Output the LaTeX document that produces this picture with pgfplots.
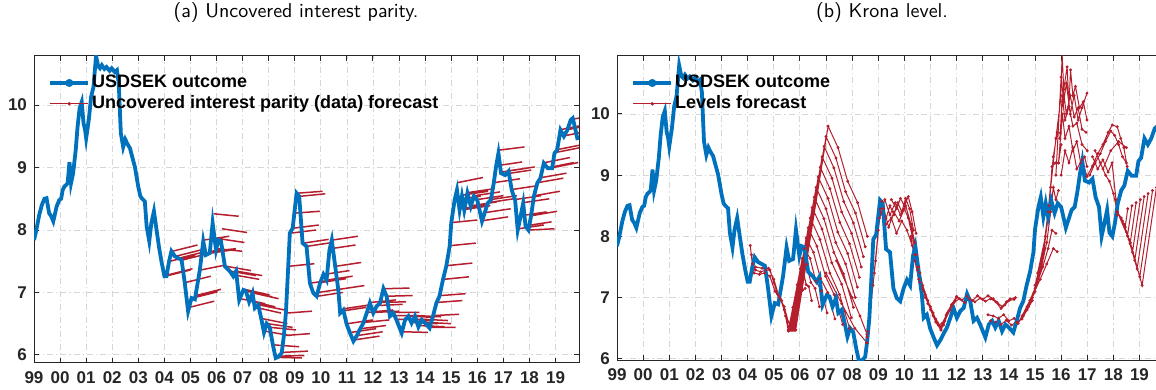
\documentclass[border=0pt]{standalone}
\usepackage{fontspec}
\usepackage{pgfplots}
\pgfplotsset{compat=1.18}
\usepackage{pgfplotstable}
\newfontfamily\hel{Liberation Sans}
\definecolor{mblue}{RGB}{0,114,189}
\definecolor{mred}{RGB}{180,30,45}
\definecolor{axc}{RGB}{38,38,38}

\pgfplotstableread{
x y
1999.00 7.84
1999.08 7.98
1999.20 8.24
1999.30 8.40
1999.40 8.50
1999.48 8.51
1999.58 8.27
1999.66 8.22
1999.74 8.14
1999.87 8.38
1999.97 8.48
2000.04 8.50
2000.10 8.64
2000.17 8.70
2000.23 8.72
2000.29 8.75
2000.36 9.09
2000.42 8.75
2000.50 8.91
2000.60 9.28
2000.67 9.65
2000.75 9.95
2000.83 10.05
2000.90 9.71
2000.96 9.60
2001.00 9.47
2001.10 9.76
2001.19 10.13
2001.28 10.29
2001.38 10.79
2001.46 10.62
2001.53 10.59
2001.60 10.64
2001.70 10.58
2001.78 10.61
2001.90 10.55
2001.98 10.59
2002.10 10.53
2002.18 10.56
2002.25 10.35
2002.33 9.55
2002.42 9.33
2002.50 9.45
2002.58 9.38
2002.68 9.31
2002.78 9.15
2002.87 9.01
2003.00 8.69
2003.08 8.54
2003.15 8.50
2003.25 8.46
2003.32 8.06
2003.42 7.82
2003.50 8.11
2003.60 8.30
2003.70 8.00
2003.80 7.71
2003.90 7.47
2004.00 7.26
2004.08 7.26
2004.18 7.50
2004.27 7.66
2004.40 7.58
2004.53 7.55
2004.66 7.52
2004.78 7.16
2004.91 6.70
2005.04 6.91
2005.17 6.89
2005.36 7.36
2005.49 7.82
2005.59 7.60
2005.74 7.63
2005.85 8.11
2005.98 7.68
2006.07 7.84
2006.17 7.82
2006.32 7.42
2006.51 7.34
2006.64 7.26
2006.75 7.34
2006.87 6.88
2007.03 7.04
2007.13 7.02
2007.25 6.85
2007.38 6.99
2007.47 6.75
2007.60 6.80
2007.72 6.57
2007.82 6.36
2007.92 6.50
2008.04 6.44
2008.17 6.14
2008.27 5.95
2008.37 5.97
2008.50 6.03
2008.58 6.30
2008.66 6.67
2008.75 7.42
2008.81 7.95
2008.92 8.03
2009.07 8.59
2009.17 8.54
2009.30 7.79
2009.45 7.74
2009.58 7.15
2009.71 6.99
2009.84 6.94
2009.97 7.15
2010.10 7.29
2010.22 7.20
2010.33 7.68
2010.42 7.84
2010.55 7.42
2010.67 7.04
2010.74 6.67
2010.86 6.72
2010.99 6.49
2011.12 6.35
2011.25 6.22
2011.37 6.30
2011.50 6.41
2011.63 6.51
2011.76 6.67
2011.88 6.83
2012.01 6.67
2012.14 6.78
2012.27 6.83
2012.40 7.06
2012.52 6.94
2012.65 6.62
2012.78 6.67
2012.90 6.56
2013.10 6.35
2013.23 6.56
2013.36 6.62
2013.48 6.51
2013.61 6.62
2013.74 6.45
2013.87 6.56
2014.00 6.51
2014.17 6.43
2014.30 6.62
2014.43 6.83
2014.55 6.94
2014.68 7.20
2014.81 7.42
2014.94 7.74
2015.00 8.11
2015.13 8.48
2015.22 8.64
2015.32 8.32
2015.41 8.54
2015.50 8.32
2015.62 8.59
2015.75 8.38
2015.87 8.54
2016.00 8.48
2016.18 8.14
2016.28 8.27
2016.40 8.43
2016.52 8.48
2016.63 8.75
2016.72 9.02
2016.81 9.23
2016.91 8.91
2017.07 8.88
2017.20 8.94
2017.32 8.64
2017.45 8.48
2017.55 8.00
2017.66 8.22
2017.76 8.43
2017.85 8.06
2017.96 8.00
2018.06 8.22
2018.17 8.54
2018.30 8.75
2018.42 8.83
2018.55 9.07
2018.70 8.99
2018.87 8.99
2018.96 9.23
2019.06 9.28
2019.19 9.60
2019.32 9.50
2019.45 9.60
2019.58 9.76
2019.66 9.79
2019.75 9.63
2019.85 9.44
}\usdsek

\pgfplotsset{
  myaxis/.style={
    scale only axis,
    xmin=1999, xmax=2019.9,
    xtick={1999,2000,2001,2002,2003,2004,2005,2006,2007,2008,2009,2010,2011,2012,2013,2014,2015,2016,2017,2018,2019},
    xticklabels={99,00,01,02,03,04,05,06,07,08,09,10,11,12,13,14,15,16,17,18,19},
    ytick={6,7,8,9,10},
    yticklabels={6,7,8,9,10},
    tick align=inside,
    major tick length=2.5pt,
    grid=major,
    major grid style={line width=0.4pt, black!16, dash pattern=on 3pt off 1.5pt on 0.6pt off 1.5pt},
    axis line style={axc, line width=0.5pt},
    tick style={axc, line width=0.5pt},
    ticklabel style={font=\hel\bfseries\fontsize{8.5}{10}\selectfont, text=axc},
    xticklabel style={yshift=-1pt},
    legend cell align=left,
    legend style={draw=none, fill=none, inner sep=0pt,
      font=\hel\bfseries\fontsize{9}{10}\selectfont,
      at={(0,1)}, anchor=north west, xshift=7pt, yshift=-8.5pt,
      nodes={inner xsep=1pt, inner ysep=1pt}, row sep=0.5pt},
    legend image code/.code={\draw[mark repeat=2,mark phase=2,##1] plot coordinates {(0pt,0pt) (9.5pt,0pt) (19pt,0pt)};},
  },
  bluestyle/.style={mblue, line width=1.9pt},
}

\begin{document}
\begin{tikzpicture}
\useasboundingbox (0,0) rectangle (578pt,195pt);
\node[font=\sffamily\fontsize{10}{12}\selectfont, anchor=base] at (148pt,186pt) {(a) Uncovered interest parity.};
\node[font=\sffamily\fontsize{10}{12}\selectfont, anchor=base] at (441pt,186pt) {(b) Krona level.};

% ---------------- left panel
\begin{axis}[myaxis, at={(17pt,13.5pt)}, anchor=south west,
  width=272.5pt, height=153.6pt, ymin=5.87, ymax=10.79]
\addplot[mred, line width=0.75pt, unbounded coords=jump, forget plot] coordinates {
(2004.04,7.26)(2005.00,7.36)(nan,nan)
(2004.12,7.28)(2005.08,7.38)(nan,nan)
(2004.22,7.50)(2005.18,7.60)(nan,nan)
(2004.31,7.66)(2005.27,7.76)(nan,nan)
(2004.44,7.58)(2005.40,7.68)(nan,nan)
(2004.57,7.55)(2005.53,7.65)(nan,nan)
(2004.70,7.52)(2005.66,7.62)(nan,nan)
(2004.82,7.16)(2005.78,7.26)(nan,nan)
(2004.95,6.76)(2005.91,6.86)(nan,nan)
(2005.08,6.91)(2006.04,7.01)(nan,nan)
(2005.21,6.95)(2006.17,7.05)(nan,nan)
(2005.40,7.36)(2006.36,7.44)(nan,nan)
(2005.53,7.84)(2006.49,7.90)(nan,nan)
(2005.63,7.62)(2006.59,7.68)(nan,nan)
(2005.78,7.66)(2006.74,7.70)(nan,nan)
(2005.89,8.26)(2006.85,8.22)(nan,nan)
(2006.02,7.70)(2006.98,7.66)(nan,nan)
(2006.11,7.86)(2007.07,7.80)(nan,nan)
(2006.21,8.02)(2007.17,7.96)(nan,nan)
(2006.36,7.42)(2007.32,7.35)(nan,nan)
(2006.55,7.34)(2007.51,7.27)(nan,nan)
(2006.68,7.28)(2007.64,7.21)(nan,nan)
(2006.79,7.34)(2007.75,7.27)(nan,nan)
(2006.91,6.90)(2007.87,6.82)(nan,nan)
(2007.07,7.05)(2008.03,6.96)(nan,nan)
(2007.17,7.02)(2008.13,6.93)(nan,nan)
(2007.29,6.86)(2008.25,6.77)(nan,nan)
(2007.42,6.99)(2008.38,6.90)(nan,nan)
(2007.51,6.76)(2008.47,6.67)(nan,nan)
(2007.64,6.80)(2008.60,6.72)(nan,nan)
(2007.76,6.58)(2008.72,6.50)(nan,nan)
(2007.86,6.38)(2008.82,6.31)(nan,nan)
(2007.96,6.50)(2008.92,6.44)(nan,nan)
(2008.08,6.44)(2009.04,6.40)(nan,nan)
(2008.21,6.16)(2009.17,6.13)(nan,nan)
(2008.31,5.96)(2009.27,5.95)(nan,nan)
(2008.41,5.98)(2009.37,5.99)(nan,nan)
(2008.54,6.04)(2009.50,6.06)(nan,nan)
(2008.62,6.31)(2009.58,6.34)(nan,nan)
(2008.70,6.67)(2009.66,6.70)(nan,nan)
(2008.79,7.42)(2009.75,7.46)(nan,nan)
(2008.85,7.95)(2009.81,8.00)(nan,nan)
(2008.96,8.03)(2009.92,8.08)(nan,nan)
(2009.00,8.27)(2009.96,8.30)(nan,nan)
(2009.11,8.59)(2010.07,8.62)(nan,nan)
(2009.21,8.54)(2010.17,8.58)(nan,nan)
(2009.34,7.79)(2010.30,7.85)(nan,nan)
(2009.49,7.74)(2010.45,7.80)(nan,nan)
(2009.62,7.15)(2010.58,7.21)(nan,nan)
(2009.75,6.99)(2010.71,7.05)(nan,nan)
(2009.88,6.94)(2010.84,7.00)(nan,nan)
(2010.01,7.16)(2010.97,7.22)(nan,nan)
(2010.14,7.29)(2011.10,7.35)(nan,nan)
(2010.26,7.20)(2011.22,7.26)(nan,nan)
(2010.37,7.70)(2011.33,7.76)(nan,nan)
(2010.46,7.84)(2011.42,7.90)(nan,nan)
(2010.59,7.42)(2011.55,7.48)(nan,nan)
(2010.71,7.05)(2011.67,7.11)(nan,nan)
(2010.78,6.70)(2011.74,6.76)(nan,nan)
(2010.90,6.74)(2011.86,6.80)(nan,nan)
(2011.03,6.50)(2011.99,6.56)(nan,nan)
(2011.16,6.36)(2012.12,6.42)(nan,nan)
(2011.29,6.24)(2012.25,6.30)(nan,nan)
(2011.41,6.31)(2012.37,6.37)(nan,nan)
(2011.54,6.42)(2012.50,6.47)(nan,nan)
(2011.67,6.52)(2012.63,6.56)(nan,nan)
(2011.80,6.68)(2012.76,6.72)(nan,nan)
(2011.92,6.84)(2012.88,6.88)(nan,nan)
(2012.05,6.68)(2013.01,6.70)(nan,nan)
(2012.18,6.79)(2013.14,6.81)(nan,nan)
(2012.31,6.84)(2013.27,6.85)(nan,nan)
(2012.44,7.06)(2013.40,7.07)(nan,nan)
(2012.56,6.94)(2013.52,6.95)(nan,nan)
(2012.69,6.63)(2013.65,6.63)(nan,nan)
(2012.82,6.68)(2013.78,6.68)(nan,nan)
(2012.94,6.57)(2013.90,6.57)(nan,nan)
(2013.14,6.37)(2014.10,6.36)(nan,nan)
(2013.27,6.57)(2014.23,6.55)(nan,nan)
(2013.40,6.62)(2014.36,6.60)(nan,nan)
(2013.52,6.52)(2014.48,6.50)(nan,nan)
(2013.65,6.63)(2014.61,6.61)(nan,nan)
(2013.78,6.47)(2014.74,6.45)(nan,nan)
(2013.91,6.57)(2014.87,6.55)(nan,nan)
(2014.04,6.52)(2015.00,6.50)(nan,nan)
(2014.21,6.44)(2015.17,6.44)(nan,nan)
(2014.34,6.63)(2015.30,6.65)(nan,nan)
(2014.47,6.84)(2015.43,6.87)(nan,nan)
(2014.59,6.95)(2015.55,6.98)(nan,nan)
(2014.72,7.21)(2015.68,7.25)(nan,nan)
(2014.85,7.43)(2015.81,7.47)(nan,nan)
(2014.98,7.75)(2015.94,7.79)(nan,nan)
(2015.04,8.12)(2016.00,8.16)(nan,nan)
(2015.17,8.49)(2016.13,8.54)(nan,nan)
(2015.26,8.76)(2016.22,8.84)(nan,nan)
(2015.36,8.34)(2016.32,8.40)(nan,nan)
(2015.45,8.56)(2016.41,8.62)(nan,nan)
(2015.54,8.33)(2016.50,8.39)(nan,nan)
(2015.66,8.60)(2016.62,8.66)(nan,nan)
(2015.79,8.39)(2016.75,8.45)(nan,nan)
(2015.91,8.55)(2016.87,8.61)(nan,nan)
(2016.04,8.49)(2017.00,8.55)(nan,nan)
(2016.22,8.15)(2017.18,8.21)(nan,nan)
(2016.32,8.28)(2017.28,8.34)(nan,nan)
(2016.44,8.44)(2017.40,8.50)(nan,nan)
(2016.56,8.49)(2017.52,8.55)(nan,nan)
(2016.67,8.76)(2017.63,8.82)(nan,nan)
(2016.76,9.03)(2017.72,9.09)(nan,nan)
(2016.85,9.28)(2017.81,9.33)(nan,nan)
(2016.95,8.93)(2017.91,8.99)(nan,nan)
(2017.11,8.90)(2018.07,8.96)(nan,nan)
(2017.24,8.95)(2018.20,9.01)(nan,nan)
(2017.36,8.65)(2018.32,8.71)(nan,nan)
(2017.49,8.49)(2018.45,8.55)(nan,nan)
(2017.59,8.02)(2018.55,8.08)(nan,nan)
(2017.70,8.23)(2018.66,8.29)(nan,nan)
(2017.80,8.44)(2018.76,8.50)(nan,nan)
(2017.89,8.07)(2018.85,8.13)(nan,nan)
(2018.00,8.00)(2018.96,8.02)(nan,nan)
(2018.10,8.23)(2019.06,8.30)(nan,nan)
(2018.21,8.55)(2019.17,8.62)(nan,nan)
(2018.34,8.76)(2019.30,8.83)(nan,nan)
(2018.46,8.84)(2019.42,8.91)(nan,nan)
(2018.59,9.08)(2019.55,9.16)(nan,nan)
(2018.74,9.00)(2019.70,9.08)(nan,nan)
(2018.91,9.00)(2019.87,9.08)(nan,nan)
(2018.99,9.24)(2019.95,9.32)(nan,nan)
(2019.10,9.29)(2020.06,9.37)(nan,nan)
(2019.23,9.61)(2020.19,9.69)(nan,nan)
(2019.36,9.51)(2020.32,9.59)(nan,nan)
(2019.49,9.61)(2020.45,9.69)(nan,nan)
(2019.62,9.77)(2020.58,9.85)
};
\addplot[bluestyle, forget plot] table {\usdsek};
\addlegendimage{bluestyle, mark=*, mark size=1pt}
\addlegendentry{USDSEK outcome}
\addlegendimage{mred, line width=0.5pt, mark=*, mark size=0.6pt}
\addlegendentry{Uncovered interest parity (data) forecast}
\end{axis}

% ---------------- right panel
\begin{axis}[myaxis, at={(308.5pt,15pt)}, anchor=south west,
  width=273pt, height=152.1pt, ymin=5.98, ymax=10.95]
\addplot[mred, line width=0.5pt, mark=*, mark size=0.45pt, unbounded coords=jump, forget plot] coordinates {
(2004.10,7.85)(2004.18,7.55)(2004.30,7.45)(2004.50,7.42)(2004.70,7.45)(2004.86,7.45)(2005.00,7.25)(2005.15,7.05)(2005.30,6.95)(2005.45,6.70)(2005.56,6.45)(nan,nan)
(2004.15,7.70)(2004.25,7.40)(2004.45,7.38)(2004.65,7.40)(2004.85,7.35)(2005.05,7.10)(2005.25,6.98)(2005.40,6.80)(2005.56,6.52)(nan,nan)
(2004.30,7.50)(2004.55,7.48)(2004.80,7.48)(2005.00,7.30)(2005.20,7.02)(2005.40,6.85)(2005.56,6.60)(nan,nan)
(2005.56,6.47)(2005.73,6.84)(2005.85,6.95)(2006.10,7.12)(nan,nan)
(2005.56,6.47)(2005.90,7.21)(2006.05,7.10)(2006.20,7.15)(nan,nan)
(2005.56,6.47)(2006.02,7.47)(2006.13,7.44)(2006.24,7.21)(2006.34,7.18)(2006.45,6.95)(nan,nan)
(2005.58,6.47)(2006.09,7.64)(2006.25,7.54)(2006.42,7.25)(2006.58,7.15)(2006.75,6.85)(nan,nan)
(2005.60,6.47)(2006.17,7.80)(2006.39,7.64)(2006.61,7.27)(2006.83,7.11)(2007.04,6.75)(nan,nan)
(2005.62,6.47)(2006.24,7.97)(2006.52,7.74)(2006.79,7.31)(2007.07,7.08)(2007.34,6.65)(nan,nan)
(2005.64,6.47)(2006.32,8.14)(2006.65,7.84)(2006.98,7.35)(2007.31,7.05)(2007.64,6.56)(nan,nan)
(2005.66,6.47)(2006.40,8.30)(2006.77,7.95)(2007.15,7.40)(2007.52,7.05)(2007.90,6.50)(nan,nan)
(2005.68,6.47)(2006.47,8.47)(2006.85,8.12)(2007.22,7.57)(2007.60,7.22)(2007.97,6.67)(nan,nan)
(2005.70,6.47)(2006.55,8.64)(2006.92,8.29)(2007.30,7.74)(2007.67,7.39)(2008.05,6.84)(nan,nan)
(2005.72,6.47)(2006.62,8.80)(2007.00,8.45)(2007.37,7.90)(2007.75,7.55)(2008.12,7.00)(nan,nan)
(2005.74,6.47)(2006.70,8.97)(2007.08,8.62)(2007.45,8.07)(2007.83,7.72)(2008.20,7.17)(nan,nan)
(2005.76,6.47)(2006.78,9.13)(2007.15,8.78)(2007.53,8.23)(2007.90,7.88)(2008.28,7.33)(nan,nan)
(2005.78,6.47)(2006.85,9.30)(2007.23,8.95)(2007.60,8.40)(2007.98,8.05)(2008.35,7.50)(nan,nan)
(2005.80,6.47)(2006.93,9.47)(2007.30,9.12)(2007.68,8.57)(2008.05,8.22)(2008.43,7.67)(nan,nan)
(2005.82,6.47)(2007.00,9.63)(2007.38,9.28)(2007.75,8.73)(2008.13,8.38)(2008.50,7.83)(nan,nan)
(2005.84,6.47)(2007.08,9.80)(2007.46,9.45)(2007.83,8.90)(2008.21,8.55)(2008.58,8.00)(nan,nan)
(2007.00,7.40)(2007.60,6.90)(2008.10,6.50)(2008.57,6.26)(nan,nan)
(2007.40,7.60)(2008.00,7.00)(2008.30,6.70)(2008.57,6.40)(nan,nan)
(2008.55,6.26)(2008.80,7.20)(2009.00,8.10)(2009.14,8.57)(2009.30,8.30)(2009.45,8.50)(2009.60,8.35)(2009.75,8.55)(2009.90,8.40)(2010.05,8.62)(2010.20,8.45)(2010.35,8.10)(nan,nan)
(2008.57,6.35)(2008.85,7.40)(2009.05,8.30)(2009.20,8.45)(2009.40,8.15)(2009.60,8.40)(2009.80,8.25)(2010.00,8.45)(2010.15,8.30)(2010.30,8.00)(2010.45,7.70)(nan,nan)
(2008.60,6.45)(2008.90,7.60)(2009.08,8.45)(2009.25,8.60)(2009.45,8.35)(2009.65,8.55)(2009.85,8.35)(2010.05,8.50)(2010.25,8.20)(2010.40,7.90)(2010.55,7.50)(nan,nan)
(2009.10,8.40)(2009.30,8.20)(2009.50,8.30)(2009.70,8.05)(2009.90,8.25)(2010.10,8.10)(2010.30,7.85)(2010.50,7.45)(2010.70,7.15)(nan,nan)
(2009.50,8.60)(2009.70,8.45)(2009.85,8.62)(2010.00,8.50)(2010.15,8.65)(2010.30,8.40)(2010.45,8.05)(nan,nan)
(2010.25,8.00)(2010.40,7.60)(2010.55,7.30)(2010.75,7.10)(2010.90,6.90)(2011.10,6.75)(2011.25,6.60)(2011.40,6.47)(nan,nan)
(2010.40,7.70)(2010.60,7.40)(2010.80,7.00)(2011.00,6.85)(2011.20,6.65)(2011.40,6.52)(2011.60,6.70)(2011.80,6.85)(2012.00,7.00)(nan,nan)
(2010.60,7.25)(2010.80,7.05)(2011.00,6.80)(2011.20,6.60)(2011.40,6.47)(2011.55,6.62)(2011.75,6.80)(2011.95,6.95)(nan,nan)
(2010.50,7.50)(2010.70,7.20)(2010.90,6.95)(2011.10,6.70)(2011.30,6.55)(2011.45,6.58)(2011.65,6.75)(2011.85,6.90)(nan,nan)
(2011.40,6.50)(2011.60,6.72)(2011.80,6.88)(2012.00,7.02)(2012.20,6.96)(2012.40,7.02)(2012.60,6.95)(2012.80,7.03)(2013.00,6.97)(2013.20,7.03)(2013.40,6.98)(2013.55,6.92)(2013.75,6.85)(2013.90,6.93)(2014.05,6.98)(2014.25,7.00)(nan,nan)
(2011.50,6.55)(2011.70,6.78)(2011.90,6.92)(2012.10,6.98)(2012.30,6.92)(2012.50,6.98)(2012.70,6.93)(2012.90,6.99)(2013.10,6.94)(2013.30,6.98)(2013.50,6.93)(2013.70,6.82)(2013.85,6.88)(2014.00,6.95)(2014.20,6.97)(nan,nan)
(2013.20,6.72)(2013.40,6.70)(2013.60,6.66)(2013.80,6.72)(2014.00,6.62)(2014.20,6.66)(2014.35,6.58)(2014.55,6.70)(2014.75,6.85)(2015.00,7.10)(nan,nan)
(2013.30,6.62)(2013.50,6.60)(2013.70,6.56)(2013.90,6.63)(2014.10,6.55)(2014.30,6.60)(2014.50,6.65)(2014.70,6.80)(2014.90,6.95)(nan,nan)
(2014.35,6.58)(2014.70,6.85)(2014.95,7.07)(2015.20,7.30)(2015.45,7.55)(2015.70,7.80)(2015.85,7.75)(nan,nan)
(2014.50,6.70)(2014.80,6.95)(2015.05,7.20)(2015.30,7.50)(2015.50,7.80)(2015.65,8.10)(2015.80,8.05)(nan,nan)
(2014.70,6.85)(2015.00,7.15)(2015.25,7.50)(2015.45,7.90)(2015.60,8.40)(2015.70,8.80)(2015.80,8.60)(2015.90,8.75)(nan,nan)
(2014.90,7.00)(2015.15,7.40)(2015.35,7.80)(2015.55,8.50)(2015.65,9.14)(2015.78,9.20)(2015.90,9.20)(2016.00,9.50)(nan,nan)
(2015.00,7.20)(2015.30,7.70)(2015.50,8.40)(2015.70,9.30)(2015.85,9.70)(2015.97,9.69)(2016.04,10.30)(2016.15,9.90)(2016.30,10.12)(2016.45,9.80)(2016.60,9.85)(2016.80,9.50)(2017.00,9.40)(nan,nan)
(2015.10,7.40)(2015.40,8.00)(2015.60,8.80)(2015.80,9.60)(2015.97,10.20)(2016.04,10.96)(2016.10,10.40)(2016.23,10.77)(2016.30,10.12)(2016.36,10.72)(2016.45,10.30)(2016.55,10.45)(2016.70,10.10)(2016.85,10.20)(2016.99,9.90)(nan,nan)
(2015.80,9.00)(2016.00,10.60)(2016.10,10.20)(2016.20,10.50)(2016.35,10.00)(2016.50,10.30)(2016.65,9.90)(2016.80,10.10)(2016.99,10.34)(nan,nan)
(2015.90,9.20)(2016.05,10.00)(2016.15,9.60)(2016.30,9.80)(2016.45,9.40)(2016.60,9.55)(2016.75,9.20)(2016.90,9.30)(2016.99,9.14)(nan,nan)
(2016.00,9.00)(2016.15,9.40)(2016.30,9.20)(2016.45,9.45)(2016.60,9.10)(2016.80,9.25)(2016.99,8.98)(nan,nan)
(2015.95,9.60)(2016.08,10.40)(2016.20,10.00)(2016.35,10.30)(2016.50,9.95)(2016.65,10.10)(2016.80,9.75)(2016.95,9.70)(nan,nan)
(2016.99,8.98)(2017.20,9.15)(2017.40,9.35)(2017.60,9.50)(2017.80,9.70)(2017.96,9.82)(2018.15,9.79)(2018.28,9.60)(2018.40,9.45)(2018.53,9.14)(nan,nan)
(2017.10,9.00)(2017.30,9.20)(2017.50,9.35)(2017.70,9.55)(2017.90,9.72)(2018.05,9.65)(2018.20,9.50)(2018.35,9.30)(2018.50,9.20)(nan,nan)
(2017.20,9.30)(2017.40,9.10)(2017.60,9.25)(2017.80,9.05)(2017.95,9.20)(2018.10,8.60)(2018.15,8.35)(nan,nan)
(2017.30,9.40)(2017.50,9.20)(2017.70,9.00)(2017.85,8.90)(2018.00,8.70)(2018.15,8.40)(nan,nan)
(2017.60,9.10)(2017.90,9.40)(2018.20,9.55)(2018.50,9.45)(nan,nan)
(2018.15,8.40)(2018.30,8.30)(2018.45,8.15)(2018.55,8.45)(nan,nan)
(2018.15,8.40)(2018.35,8.25)(2018.54,8.01)(2018.71,8.50)(nan,nan)
(2018.15,8.40)(2018.40,8.20)(2018.64,7.88)(2018.87,8.55)(nan,nan)
(2018.15,8.40)(2018.45,8.15)(2018.73,7.74)(2019.03,8.60)(nan,nan)
(2018.15,8.40)(2018.50,8.07)(2018.82,7.61)(2019.18,8.65)(nan,nan)
(2018.15,8.40)(2018.55,8.00)(2018.91,7.47)(2019.33,8.70)(nan,nan)
(2018.15,8.40)(2018.60,7.95)(2019.01,7.34)(2019.50,8.75)(nan,nan)
(2018.15,8.40)(2018.65,7.90)(2019.10,7.20)(2019.65,8.80)
};
\addplot[bluestyle, forget plot] table {\usdsek};
\addlegendimage{bluestyle, mark=*, mark size=1pt}
\addlegendentry{USDSEK outcome}
\addlegendimage{mred, line width=0.5pt, mark=*, mark size=0.6pt}
\addlegendentry{Levels forecast}
\end{axis}
\end{tikzpicture}
\end{document}
